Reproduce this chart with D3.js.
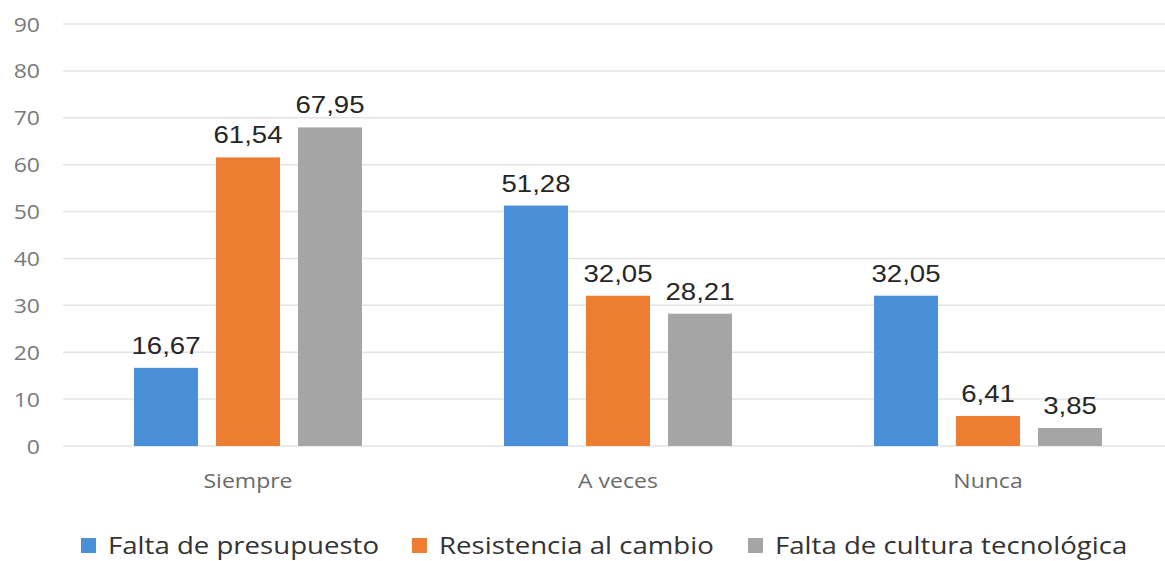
<!DOCTYPE html>
<meta charset="utf-8">
<body style="margin:0;background:#fff">
<script src="https://d3js.org/d3.v7.min.js"></script>
<div id="chart"></div>
<script>
// data
var categories = ["Siempre", "A veces", "Nunca"];
var seriesNames = ["Falta de presupuesto", "Resistencia al cambio", "Falta de cultura tecnológica"];
var presupuesto = [16.67, 51.28, 32.05];
var resistencia = [61.54, 32.05, 6.41];
var cultura = [67.95, 28.21, 3.85];
var yTicks = [0, 10, 20, 30, 40, 50, 60, 70, 80, 90];
var colors = ["#4a90d9", "#ed7d31", "#a5a5a5"];

var width = 1165, height = 561;
var values = [presupuesto, resistencia, cultura];

var svg = d3.select("#chart").append("svg")
    .attr("width", width)
    .attr("height", height);

var y = d3.scaleLinear().domain([0, 90]).range([446, 24]);
var x0 = d3.scaleBand().domain(categories).range([63, 1173]).padding(0);
var x1 = d3.scaleBand().domain(seriesNames).range([0, x0.bandwidth()])
    .paddingInner(0.22).paddingOuter(0.866);

// the source image is a bit stretched sideways, text too
var stretch = 1.15;

// gridlines
svg.append("g")
    .selectAll("line")
    .data(yTicks)
    .join("line")
    .attr("x1", 63)
    .attr("x2", width)
    .attr("y1", d => y(d))
    .attr("y2", d => y(d))
    .attr("stroke", "#e3e3e3")
    .attr("stroke-width", 1.5);

// y axis labels
var yAxis = svg.append("g")
    .attr("transform", "translate(40,0)")
    .call(d3.axisLeft(y).tickValues(yTicks).tickSize(0).tickPadding(0));
yAxis.select(".domain").remove();
yAxis.selectAll(".tick text")
    .attr("x", null)
    .attr("dy", "0.35em")
    .attr("transform", `scale(${stretch},1)`)
    .attr("font-family", "Open Sans")
    .attr("font-size", 20)
    .attr("fill", "#7a7a7a");

// bars
var groups = svg.append("g")
    .selectAll("g")
    .data(categories)
    .join("g")
    .attr("transform", d => `translate(${x0(d)},0)`);

var cells = groups.selectAll("g")
    .data((c, ci) => seriesNames.map((s, si) => ({ s: s, si: si, v: values[si][ci] })))
    .join("g");

cells.append("rect")
    .attr("x", d => x1(d.s))
    .attr("y", d => y(d.v))
    .attr("width", x1.bandwidth())
    .attr("height", d => y(0) - y(d.v))
    .attr("fill", d => colors[d.si]);

cells.append("text")
    .attr("transform", d => `translate(${x1(d.s) + x1.bandwidth() / 2},${y(d.v) - 14}) scale(${stretch + 0.05},1)`)
    .attr("text-anchor", "middle")
    .attr("font-family", "Liberation Sans, Arial")
    .attr("font-size", 23)
    .attr("fill", "#262626")
    .text(d => d.v.toFixed(2).replace(".", ","));

// category labels
svg.append("g")
    .selectAll("text")
    .data(categories)
    .join("text")
    .attr("transform", d => `translate(${x0(d) + x0.bandwidth() / 2},488) scale(${stretch},1)`)
    .attr("text-anchor", "middle")
    .attr("font-family", "Open Sans")
    .attr("font-size", 20)
    .attr("fill", "#6a6a6a")
    .text(d => d);

// legend
var legendX = [81, 412, 748];
var legend = svg.append("g")
    .selectAll("g")
    .data(seriesNames)
    .join("g")
    .attr("transform", (d, i) => `translate(${legendX[i]},546)`);
legend.append("rect")
    .attr("x", 0)
    .attr("y", -8)
    .attr("width", 15)
    .attr("height", 15)
    .attr("fill", (d, i) => colors[i]);
legend.append("text")
    .attr("transform", `translate(27,8) scale(${stretch},1)`)
    .attr("font-family", "Open Sans")
    .attr("font-size", 24)
    .attr("font-weight", 500)
    .attr("fill", "#333")
    .text(d => d);
</script>
</body>
